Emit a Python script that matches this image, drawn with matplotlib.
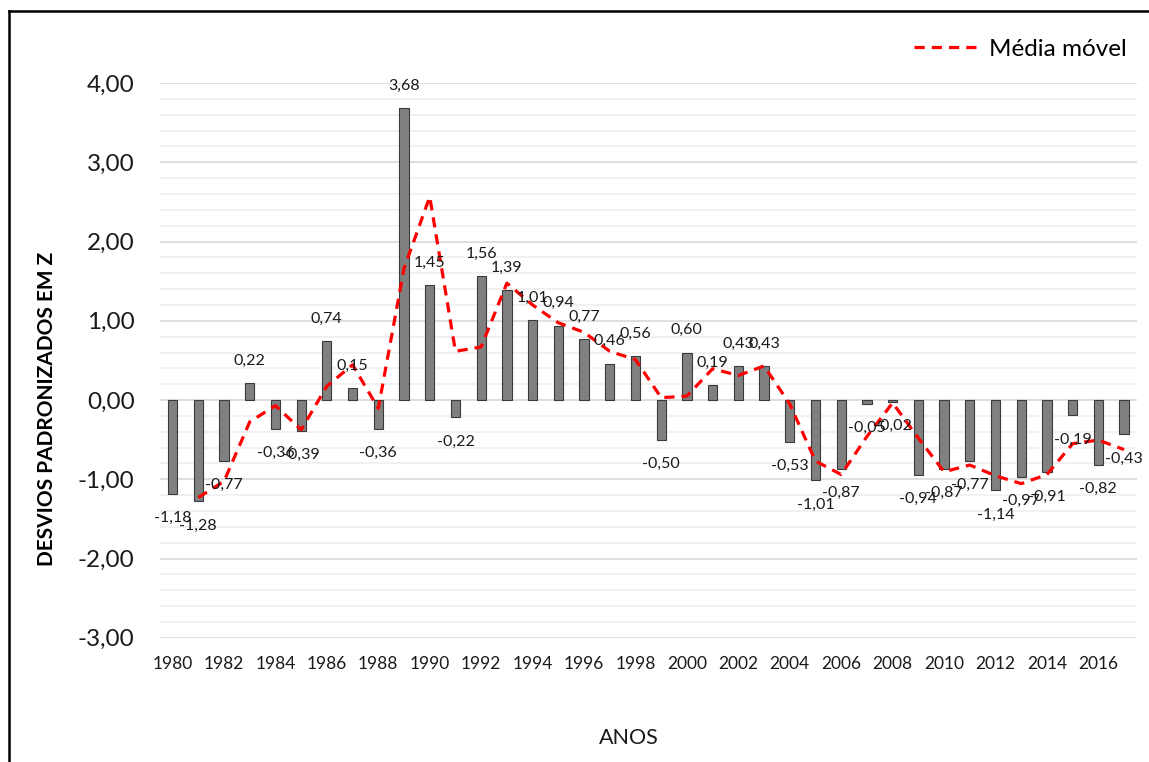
import matplotlib
matplotlib.use('Agg')
import matplotlib.pyplot as plt
from matplotlib.lines import Line2D
from matplotlib.ticker import MultipleLocator, FuncFormatter

plt.rcParams['font.family'] = ['Lato', 'DejaVu Sans']

# dados
anos = list(range(1980, 2018))
desvios = [-1.18, -1.28, -0.77, 0.22, -0.36, -0.39, 0.74, 0.15, -0.36, 3.68,
           1.45, -0.22, 1.56, 1.39, 1.01, 0.94, 0.77, 0.46, 0.56, -0.50,
           0.60, 0.19, 0.43, 0.43, -0.53, -1.01, -0.87, -0.05, -0.02, -0.94,
           -0.87, -0.77, -1.14, -0.97, -0.91, -0.19, -0.82, -0.43]
anos_mm = list(range(1981, 2018))
media_movel = [-1.23, -1.025, -0.275, -0.07, -0.375, 0.175, 0.445, -0.105, 1.66,
               2.565, 0.615, 0.67, 1.475, 1.20, 0.975, 0.855, 0.615, 0.51, 0.03,
               0.05, 0.395, 0.31, 0.43, -0.05, -0.77, -0.94, -0.46, -0.035, -0.48,
               -0.905, -0.82, -0.955, -1.055, -0.94, -0.55, -0.505, -0.625]

fig = plt.figure(figsize=(11.49, 7.62), dpi=100)
ax = fig.add_axes([0.139, 0.163, 0.8505, 0.728])

# grade
ax.yaxis.set_major_locator(MultipleLocator(1))
ax.yaxis.set_minor_locator(MultipleLocator(0.2))
ax.grid(which='major', axis='y', color='#d9d9d9', linewidth=1.2, zorder=0)
ax.grid(which='minor', axis='y', color='#efefef', linewidth=1.2, zorder=0)
ax.set_axisbelow(True)

# barras
ax.bar(anos, desvios, width=0.36, color='#808080', edgecolor='#3a3a3a',
       linewidth=0.8, zorder=2)

# rótulos dos valores
for a, v in zip(anos, desvios):
    off = 16 if v >= 0 else -17.5
    ax.annotate(f'{v:.2f}'.replace('.', ','), (a, v), xytext=(0, off),
                textcoords='offset points', ha='center', va='center',
                fontsize=11.5, color='#1a1a1a', zorder=4)

# média móvel
ax.plot(anos_mm, media_movel, color='#ff0000', linewidth=2.3,
        dashes=(3.2, 2.2), zorder=3, label='Média móvel')

ax.set_xlim(1979.5, 2017.5)
ax.set_ylim(-3, 4)
ax.set_xticks(anos[::2])
ax.tick_params(axis='x', length=0, pad=13, labelsize=12.5, labelcolor='#1a1a1a')
ax.tick_params(axis='y', which='both', length=0, pad=18, labelsize=17.5,
               labelcolor='#1a1a1a')
ax.yaxis.set_major_formatter(FuncFormatter(lambda v, p: f'{v:.2f}'.replace('.', ',')))
for s in ax.spines.values():
    s.set_visible(False)

fig.text(47 / 1149, 1 - 409 / 762, 'DESVIOS PADRONIZADOS EM Z', rotation=90,
         ha='center', va='center', fontsize=15, fontweight='bold')
fig.text(629 / 1149, 1 - 738 / 762, 'ANOS', ha='center', va='center',
         fontsize=15.5, color='#1a1a1a')

leg = ax.legend(loc='upper right', bbox_to_anchor=(1.0, 1.097), frameon=False,
                fontsize=17.5, handlelength=2.6, handletextpad=0.5,
                borderaxespad=0)

# moldura
fig.add_artist(Line2D([0.0075, 0.0075], [0.0, 0.986], color='black', linewidth=1.8))
fig.add_artist(Line2D([0.0075, 1.0], [0.986, 0.986], color='black', linewidth=1.8))

fig.savefig('out.png', dpi=100)
